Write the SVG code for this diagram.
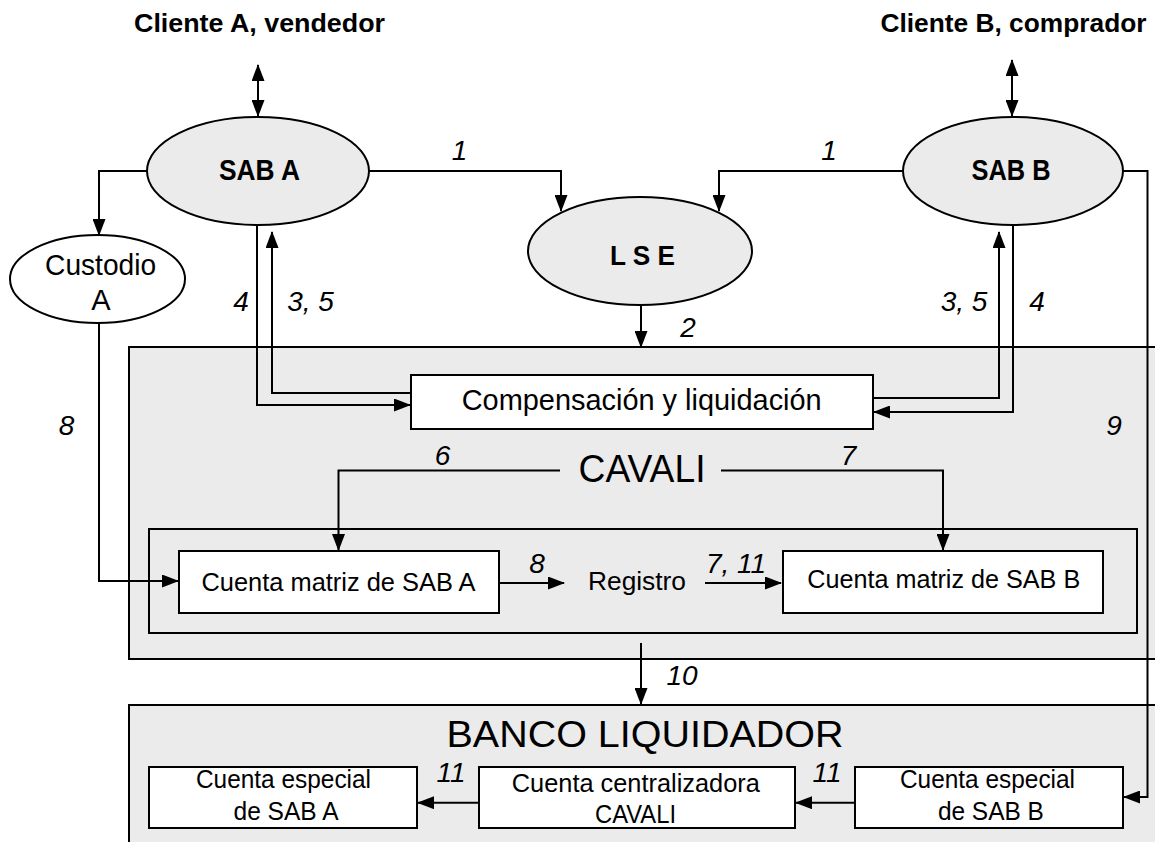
<svg xmlns="http://www.w3.org/2000/svg" width="1155" height="842" viewBox="0 0 1155 842">
<style>
text{font-family:"Liberation Sans",Arial,sans-serif;fill:#000}
.b{font-weight:bold}
.lbl{font-style:italic;font-size:28px;text-anchor:middle}
.c{text-anchor:middle}
.grey{fill:#ebebeb;stroke:#000;stroke-width:2}
.box{fill:#fff;stroke:#000;stroke-width:2}
.ell{fill:#ebebeb;stroke:#000;stroke-width:2}
.ellw{fill:#fff;stroke:#000;stroke-width:2}
.con path,.con line{fill:none;stroke:#000;stroke-width:2;marker-end:url(#ah)}
.con .dbl{marker-start:url(#ah)}
</style>
<defs>
<marker id="ah" markerUnits="userSpaceOnUse" markerWidth="17" markerHeight="13" refX="16" refY="6.5" orient="auto-start-reverse" viewBox="0 0 17 13"><path d="M0,0 L17,6.5 L0,13 z" fill="#000"/></marker>
</defs>
<rect width="1155" height="842" fill="#fff"/>

<g id="cavali">
<rect class="grey" x="129" y="347" width="1040" height="312"/>
<text class="c" x="642" y="482" font-size="39" textLength="127" lengthAdjust="spacingAndGlyphs">CAVALI</text>
</g>
<g id="inner">
<rect class="grey" x="149" y="529" width="988" height="104"/>
</g>
<g id="banco">
<rect class="grey" x="129" y="705" width="1040" height="160"/>
<text class="c" x="645" y="747" font-size="37" textLength="397" lengthAdjust="spacingAndGlyphs">BANCO LIQUIDADOR</text>
</g>

<g id="clienteA"><text class="b c" x="259.5" y="32" font-size="26" textLength="251" lengthAdjust="spacingAndGlyphs">Cliente A, vendedor</text></g>
<g id="clienteB"><text class="b c" x="1013.5" y="32" font-size="26" textLength="266" lengthAdjust="spacingAndGlyphs">Cliente B, comprador</text></g>

<g id="sabA">
<ellipse class="ell" cx="258" cy="171" rx="111" ry="54"/>
<text class="b c" x="259.5" y="180" font-size="30" textLength="81" lengthAdjust="spacingAndGlyphs">SAB A</text>
</g>
<g id="sabB">
<ellipse class="ell" cx="1013" cy="171" rx="110" ry="54"/>
<text class="b c" x="1011" y="180" font-size="30" textLength="79" lengthAdjust="spacingAndGlyphs">SAB B</text>
</g>
<g id="lse">
<ellipse class="ell" cx="640" cy="251" rx="112" ry="54"/>
<text class="b c" x="642.5" y="265" font-size="28" textLength="65" lengthAdjust="spacingAndGlyphs">L S E</text>
</g>
<g id="custodio">
<ellipse class="ellw" cx="97.5" cy="279" rx="87.5" ry="44"/>
<text class="c" x="100.6" y="275" font-size="29" textLength="111" lengthAdjust="spacingAndGlyphs">Custodio</text>
<text class="c" x="101" y="310" font-size="29">A</text>
</g>
<g id="compensacion">
<rect class="box" x="411" y="375" width="462" height="54"/>
<text class="c" x="641.7" y="410" font-size="29" textLength="360" lengthAdjust="spacingAndGlyphs">Compensación y liquidación</text>
</g>
<g id="matrizA">
<rect class="box" x="179" y="551" width="320" height="62"/>
<text class="c" x="338.5" y="590.7" font-size="26.5" textLength="274" lengthAdjust="spacingAndGlyphs">Cuenta matriz de SAB A</text>
</g>
<g id="registro">
<text class="c" x="637" y="590" font-size="26.5" textLength="98" lengthAdjust="spacingAndGlyphs">Registro</text>
</g>
<g id="matrizB">
<rect class="box" x="783" y="551" width="320" height="62"/>
<text class="c" x="943.7" y="588.3" font-size="26.5" textLength="273" lengthAdjust="spacingAndGlyphs">Cuenta matriz de SAB B</text>
</g>
<g id="especialA">
<rect class="box" x="149" y="767" width="268" height="61"/>
<text class="c" x="283.5" y="788.3" font-size="25.5" textLength="175" lengthAdjust="spacingAndGlyphs">Cuenta especial</text>
<text class="c" x="286" y="820" font-size="25.5" textLength="105" lengthAdjust="spacingAndGlyphs">de SAB A</text>
</g>
<g id="centralizadora">
<rect class="box" x="479" y="767" width="316" height="61"/>
<text class="c" x="635.8" y="791.7" font-size="25.5" textLength="248" lengthAdjust="spacingAndGlyphs">Cuenta centralizadora</text>
<text class="c" x="635.5" y="823.3" font-size="25.5" textLength="81" lengthAdjust="spacingAndGlyphs">CAVALI</text>
</g>
<g id="especialB">
<rect class="box" x="855" y="767" width="268" height="61"/>
<text class="c" x="987.5" y="788.3" font-size="25.5" textLength="175" lengthAdjust="spacingAndGlyphs">Cuenta especial</text>
<text class="c" x="990.9" y="820" font-size="25.5" textLength="106" lengthAdjust="spacingAndGlyphs">de SAB B</text>
</g>

<g id="connectors" class="con">
<line class="dbl" x1="258" y1="65" x2="258" y2="116"/>
<line class="dbl" x1="1012" y1="60" x2="1012" y2="116"/>
<path d="M369,171 H561 V211"/>
<path d="M903,171 H719 V211"/>
<path d="M147,171 H99 V235"/>
<path d="M641,305 V347"/>
<path d="M257,225 V405 H410"/>
<path d="M411,393 H272 V232"/>
<path d="M873,398 H999 V232"/>
<path d="M1013,225 V412 H874"/>
<path d="M99,323 V581 H178"/>
<path d="M560,470.5 H338.5 V550"/>
<path d="M721,470.5 H943 V550"/>
<path d="M499,583 H564"/>
<path d="M705,583 H781"/>
<path d="M641,643 V704"/>
<path d="M479,802.7 H418"/>
<path d="M855,802.7 H796"/>
<path d="M1122.5,171 H1147.5 V797 H1124"/>
</g>

<g id="labels">
<text class="lbl" x="459.5" y="160">1</text>
<text class="lbl" x="829" y="160">1</text>
<text class="lbl" x="241" y="311">4</text>
<text class="lbl" x="310.5" y="311">3, 5</text>
<text class="lbl" x="964" y="311">3, 5</text>
<text class="lbl" x="1037" y="311">4</text>
<text class="lbl" x="688" y="337">2</text>
<text class="lbl" x="66.5" y="435">8</text>
<text class="lbl" x="1114" y="435">9</text>
<text class="lbl" x="442.5" y="465">6</text>
<text class="lbl" x="848.5" y="465">7</text>
<text class="lbl" x="537" y="573">8</text>
<text class="lbl" x="736" y="573">7, 11</text>
<text class="lbl" x="682" y="685">10</text>
<text class="lbl" x="451" y="782">11</text>
<text class="lbl" x="827" y="782">11</text>
</g>
</svg>
